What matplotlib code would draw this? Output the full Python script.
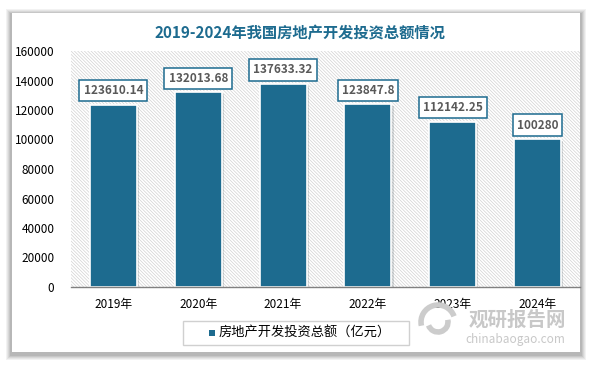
import matplotlib.pyplot as plt
from matplotlib.patches import Rectangle, Arc
import matplotlib.patheffects as pe

plt.rcParams['font.family'] = ['Noto Sans CJK SC', 'DejaVu Sans']
plt.rcParams['hatch.linewidth'] = 0.5

years = ['2019年', '2020年', '2021年', '2022年', '2023年', '2024年']
investment = [123610.14, 132013.68, 137633.32, 123847.8, 112142.25, 100280]
value_labels = ['123610.14', '132013.68', '137633.32', '123847.8', '112142.25', '100280']

W, H = 594, 366
fig = plt.figure(figsize=(W / 100, H / 100), dpi=100)
fig.patch.set_facecolor('white')

# card with soft shadow
cx0, cy0, cx1, cy1 = 12, 13, 580, 352
for i, a in enumerate([0.05, 0.05, 0.06, 0.07, 0.08]):
    g = 6 - i
    fig.patches.append(Rectangle(((cx0 - g) / W, (H - cy1 - g - 2) / H),
                                 (cx1 - cx0 + 2 * g) / W, (cy1 - cy0 + 2 * g) / H,
                                 transform=fig.transFigure, facecolor='black',
                                 edgecolor='none', alpha=a, zorder=0))
fig.patches.append(Rectangle((cx0 / W, (H - cy1) / H), (cx1 - cx0) / W, (cy1 - cy0) / H,
                             transform=fig.transFigure, facecolor='white',
                             edgecolor='none', zorder=1))

ax = fig.add_axes([71 / W, (H - 287) / H, 509 / W, 236 / H], zorder=2)
ax.set_facecolor('white')
ax.add_patch(Rectangle((0, 0), 1, 1, transform=ax.transAxes, facecolor='white',
                       edgecolor='#d2d2d2', linewidth=0, hatch='\\' * 10, zorder=0))

x = range(len(years))
bars = ax.bar(x, investment, width=0.555, color='#1d6b8f', edgecolor='white',
              linewidth=1.2, zorder=2)
for b in bars:
    b.set_path_effects([pe.SimplePatchShadow(offset=(1.5, -1.5), alpha=0.15), pe.Normal()])

for xi, v, lab in zip(x, investment, value_labels):
    ax.annotate(lab, (xi, v), xytext=(0, 14), textcoords='offset pixels',
                ha='center', va='center', fontsize=8.5, fontweight='bold',
                color='#595959', zorder=4,
                bbox=dict(boxstyle='square,pad=0.35', facecolor='white',
                          edgecolor='#1d6b8f', linewidth=1.1))

ax.set_xlim(-0.5, len(years) - 0.5)
ax.set_ylim(0, 160000)
ax.set_yticks(range(0, 160001, 20000))
ax.set_xticks(list(x))
ax.set_xticklabels(years)
ax.tick_params(axis='both', length=0, labelsize=8.5, colors='#000000')
ax.tick_params(axis='x', pad=8)
ax.tick_params(axis='y', pad=12)
for s in ['top', 'right', 'left']:
    ax.spines[s].set_visible(False)
ax.spines['bottom'].set_color('#808080')
ax.spines['bottom'].set_linewidth(1.0)

fig.text(300 / W, 1 - 33 / H, '2019-2024年我国房地产开发投资总额情况', ha='center',
         va='center', fontsize=11, fontweight='bold', color='#1d6b8f', zorder=3)

# legend box
fig.patches.append(Rectangle((183 / W, (H - 345) / H), 226 / W, 24 / H,
                             transform=fig.transFigure, facecolor='white',
                             edgecolor='#d0d0d0', linewidth=1.0, zorder=3))
fig.patches.append(Rectangle((209 / W, (H - 336) / H), 6 / W, 6 / H,
                             transform=fig.transFigure, facecolor='#1d6b8f',
                             edgecolor='none', zorder=4))
fig.text(219 / W, 1 - 333 / H, '房地产开发投资总额（亿元）', ha='left', va='center',
         fontsize=9.5, color='#000000', zorder=4)

# watermark
for r, t1, t2 in [(17, 30, 200), (10, 210, 380)]:
    fig.patches.append(Arc((438 / W, 1 - 322 / H), 2 * r / W, 2 * r / H, theta1=t1,
                           theta2=t2, transform=fig.transFigure, color='#cccccc',
                           linewidth=4, zorder=4))
fig.text(517 / W, 1 - 320 / H, '观研报告网', ha='center', va='center', fontsize=14,
         fontweight='bold', color='#c8c8c8', zorder=4)
fig.text(515 / W, 1 - 339 / H, 'chinabaogao.com', ha='center', va='center', fontsize=8.5,
         color='#c8c8c8', zorder=4)

fig.savefig('out.png', dpi=100)
